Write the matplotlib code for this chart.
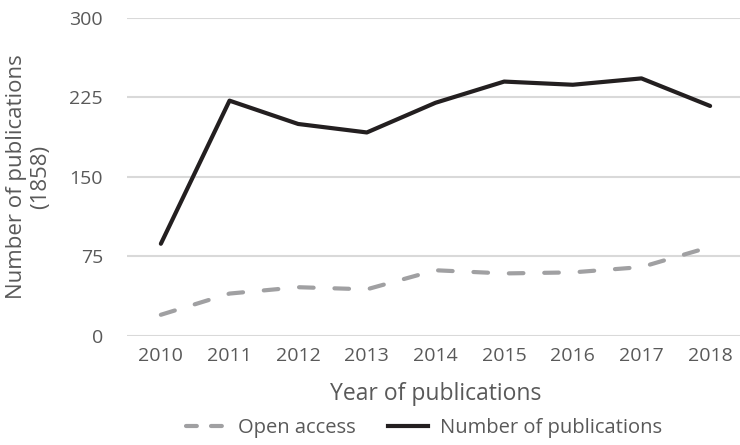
# line chart: publications per year vs open access
import matplotlib.pyplot as plt
from matplotlib.lines import Line2D

years = ['2010', '2011', '2012', '2013', '2014', '2015', '2016', '2017', '2018']
total_pubs = [87, 222, 200, 192, 220, 240, 237, 243, 217]
open_access = [20, 40, 46, 44, 62, 59, 60, 65, 84]
yticks = [0, 75, 150, 225, 300]

txt = '#595959'
grey = '#a0a0a2'
plt.rcParams['font.family'] = ['Open Sans', 'DejaVu Sans']

fig = plt.figure(figsize=(7.4, 4.45), dpi=100)
ax = fig.add_axes([0.171, 0.245, 0.835, 0.7146])

x = list(range(len(years)))
ax.plot(x, open_access, color=grey, lw=3, dashes=(3.5, 5.0),
        dash_capstyle='round', zorder=3)
ax.plot(x, total_pubs, color='#231f20', lw=3, solid_capstyle='round',
        zorder=4)

ax.set_xlim(-0.5, len(years) - 0.5)
ax.set_ylim(0, 300)
ax.set_yticks(yticks)
ax.set_xticks(x)
ax.set_xticklabels(years)
ax.yaxis.grid(True, color='#d9d9d9', lw=1.5)
ax.set_axisbelow(True)
for s in ax.spines.values():
    s.set_visible(False)
ax.tick_params(length=0, labelsize=14, labelcolor=txt)
ax.tick_params(axis='y', pad=17)
ax.tick_params(axis='x', pad=8)

fig.text(0.589, 0.115, 'Year of publications', fontsize=16.5, color=txt,
         ha='center', va='center')
fig.text(0.039, 0.602, 'Number of publications\n(1858)', fontsize=16,
         color=txt, rotation=90, ha='center', va='center',
         multialignment='center', linespacing=1.2)

# legend handles: shorter dashes so two show in the key, like the original
handles = [Line2D([], [], color=grey, lw=3, dashes=(2.6, 3.4), dash_capstyle='round'),
           Line2D([], [], color='#231f20', lw=3)]
fig.legend(handles, ['Open access', 'Number of publications'],
           loc='center', bbox_to_anchor=(0.573, 0.038), ncol=2, frameon=False,
           fontsize=14.5, labelcolor=txt, handlelength=2.0, columnspacing=1.6,
           handletextpad=0.6, borderaxespad=0)

plt.savefig('out.png', dpi=100)
